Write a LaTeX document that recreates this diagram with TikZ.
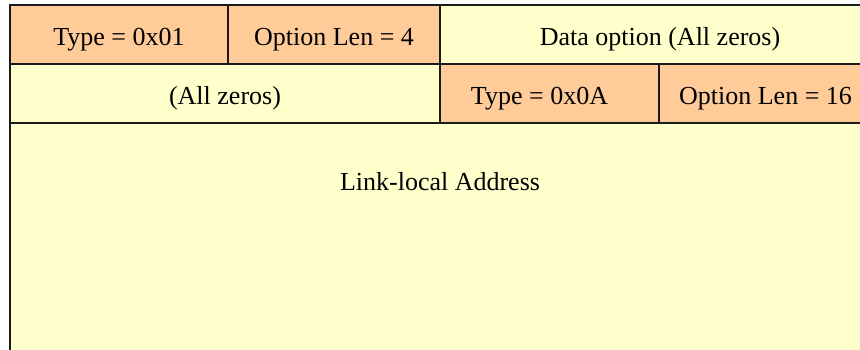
\documentclass[tikz,border=0pt]{standalone}
\usepackage{fontspec}
\setmainfont{Liberation Serif}
\usetikzlibrary{positioning}
\definecolor{FieldPeach}{HTML}{FFCC99}
\definecolor{FieldYellow}{HTML}{FFFFCC}
\definecolor{RuleBlack}{HTML}{1A1A1A}

\begin{document}
\begin{tikzpicture}[x=1pt, y=1pt,
    cell/.style={draw=RuleBlack, line width=1.5pt, inner sep=0pt, outer sep=0pt,
      minimum height=59pt, text height=27pt, text depth=5pt,
      font=\fontsize{26}{31}\selectfont, anchor=north west},
    hdr/.style={cell, fill=FieldPeach},
    dat/.style={cell, fill=FieldYellow}
  ]
    \useasboundingbox (0,0) rectangle (860,349);
    \clip (0,0) rectangle (860,349);

    % Row 1: first option header
    \node[hdr, minimum width=218pt] (typeA) at (10,344) {Type = 0x01};
    \node[hdr, minimum width=212pt, right=0pt of typeA] (lenA) {Option Len = 4};
    \node[dat, minimum width=440pt, right=0pt of lenA] (dataA) {Data option (All zeros)};

    % Row 2: padding and second option header
    \node[dat, minimum width=430pt, below=0pt of typeA.south west, anchor=north west] (zeros) {(All zeros)};
    \node[hdr, minimum width=219pt, right=0pt of zeros] (typeB) {Type = 0x0A\kern20pt};
    \node[hdr, minimum width=221pt, right=0pt of typeB] (lenB) {Option Len = 16\kern8pt};

    % Row 3: address
    \node[dat, minimum width=870pt, minimum height=260pt, below=0pt of zeros.south west, anchor=north west] (addr) {};
    \node[font=\fontsize{26}{31}\selectfont] (addrlbl) at (440,167) {Link-local Address};

  \end{tikzpicture}
\end{document}
